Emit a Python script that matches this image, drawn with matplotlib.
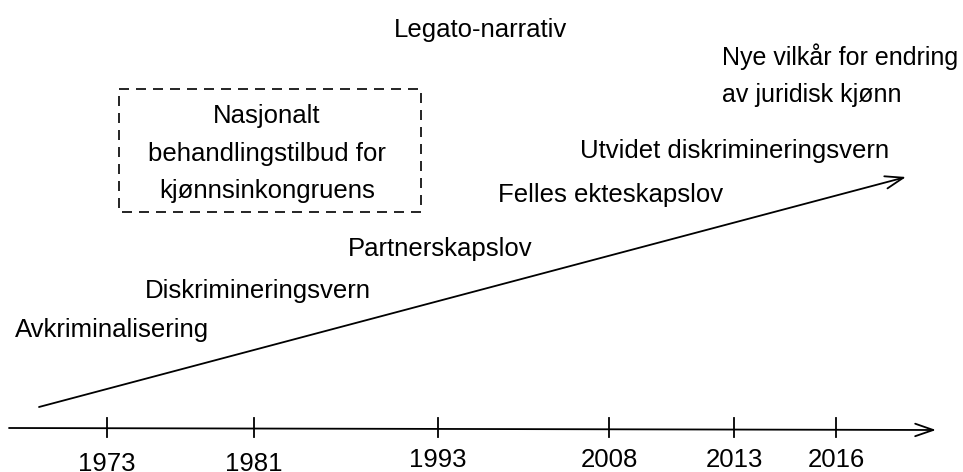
import matplotlib.pyplot as plt
from matplotlib.patches import Rectangle

plt.rcParams['font.family'] = ['Liberation Sans', 'DejaVu Sans']

# timeline data
years = ['1973', '1981', '1993', '2008', '2013', '2016']
tick_x = [107, 254, 438, 609, 734, 836]
year_base = [471, 471, 467, 467, 467, 467]

events = ['Avkriminalisering', 'Diskrimineringsvern', 'Partnerskapslov',
          'Felles ekteskapslov', 'Utvidet diskrimineringsvern',
          'Nye vilkår for endring\nav juridisk kjønn']
event_x = [15, 145, 348, 498, 580, 722]
# baseline of the last line of each label
event_base = [337, 298, 256, 202, 158, 102]
event_fs = [18.5, 18.5, 18.5, 18.5, 18.5, 18]

box_text = 'Nasjonalt\nbehandlingstilbud for\nkjønnsinkongruens'

fs = 18.5
fig = plt.figure(figsize=(9.63, 4.72), dpi=100)
ax = fig.add_axes([0, 0, 1, 1])
ax.set_xlim(0, 963)
ax.set_ylim(472, 0)
ax.axis('off')

head = '->,head_length=1.3,head_width=0.45'

# horizontal time axis
ax.annotate('', xy=(936, 430), xytext=(9, 428),
            arrowprops=dict(arrowstyle=head, lw=1.3, color='black',
                            shrinkA=0, shrinkB=0))
for x, lab, yb in zip(tick_x, years, year_base):
    ax.plot([x, x], [418, 437], color='black', lw=1.3)
    ax.text(x, yb, lab, ha='center', va='baseline', fontsize=fs)

# diagonal trend arrow
ax.annotate('', xy=(906, 177), xytext=(39, 407),
            arrowprops=dict(arrowstyle=head, lw=1.3, color='black',
                            shrinkA=0, shrinkB=0))

for lab, x, yb, f in zip(events, event_x, event_base, event_fs):
    ax.text(x, yb, lab, ha='left', va='baseline', fontsize=f, linespacing=1.68,
            multialignment='left')

ax.add_patch(Rectangle((119, 89), 302, 123, fill=False, ls=(0, (6, 4.2)),
                       lw=1.2, color='black'))
ax.text(267, 198, box_text, ha='center', va='baseline', fontsize=fs,
        linespacing=1.7, multialignment='center')

ax.text(481, 37, 'Legato-narrativ', ha='center', va='baseline', fontsize=fs)

fig.savefig('out.png', dpi=100)
